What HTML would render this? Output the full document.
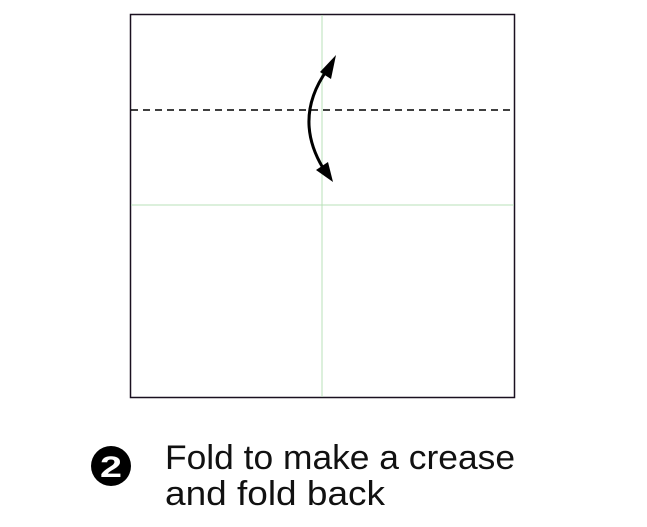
<!DOCTYPE html>
<html><head><meta charset="utf-8"><style>
html,body{margin:0;padding:0;background:#fff;width:647px;height:527px;overflow:hidden}
svg{display:block}
</style></head><body>
<svg width="647" height="527" viewBox="0 0 647 527">
<rect x="130.5" y="14.5" width="384" height="383" fill="#fff" stroke="#1a1020" stroke-width="1.5"/>
<line x1="322" y1="15" x2="322" y2="397" stroke="#b8e0b8" stroke-width="1"/>
<line x1="131" y1="205" x2="514" y2="205" stroke="#b8e0b8" stroke-width="1"/>
<line x1="131" y1="110" x2="514" y2="110" stroke="#000" stroke-width="1.5" stroke-dasharray="7,5"/>
<path d="M327,70 Q293,118 323,168" fill="none" stroke="#000" stroke-width="3"/>
<polygon points="336,55 320,72 331,79" fill="#000"/>
<polygon points="333,182 316,170 328,162" fill="#000"/>
<circle cx="111" cy="466" r="20" fill="#000"/>
<text x="111" y="477" text-anchor="middle" font-family="Liberation Sans, sans-serif" font-weight="bold" font-size="30" textLength="22" lengthAdjust="spacingAndGlyphs" fill="#fff">2</text>
<text x="165" y="469" font-family="Liberation Sans, sans-serif" font-size="34" textLength="350" lengthAdjust="spacingAndGlyphs" fill="#111">Fold to make a crease</text>
<text x="165" y="505" font-family="Liberation Sans, sans-serif" font-size="34" textLength="220" lengthAdjust="spacingAndGlyphs" fill="#111">and fold back</text>
</svg>
</body></html>
